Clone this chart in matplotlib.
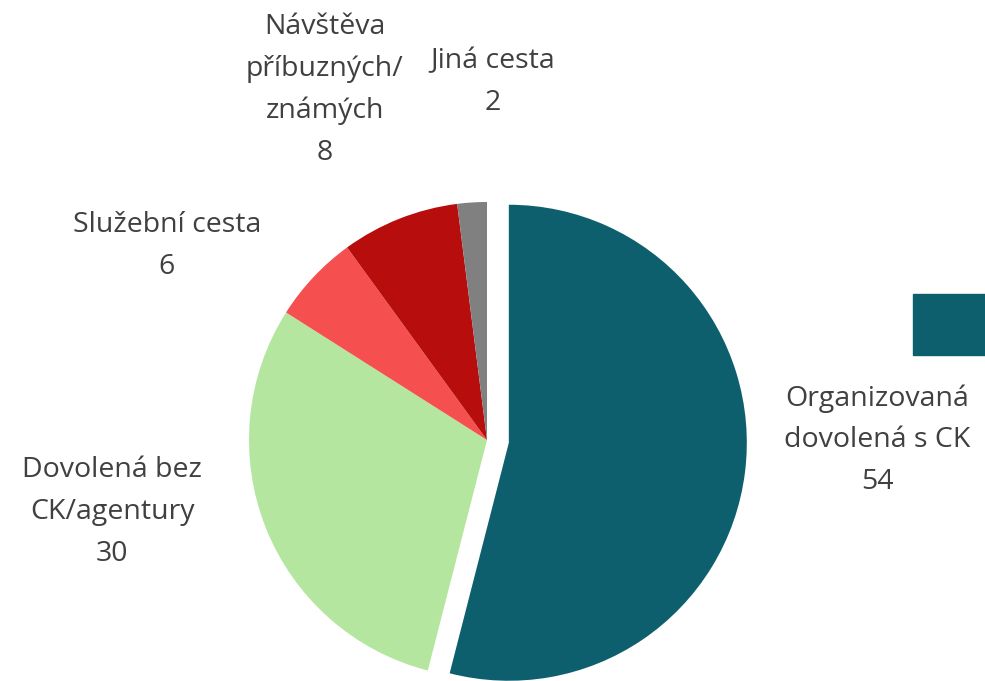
import matplotlib.pyplot as plt
from matplotlib.patches import Rectangle

plt.rcParams['font.family'] = ['Open Sans', 'DejaVu Sans']

# Data
categories = ["Organizovaná\ndovolená s CK", "Dovolená bez\nCK/agentury",
              "Služební cesta", "Návštěva\npříbuzných/\nznámých", "Jiná cesta"]
values = [54, 30, 6, 8, 2]
colors = ["#0E5F6E", "#B5E6A0", "#F54F4F", "#B80D0D", "#808080"]

# label anchor positions (pixels from top-left)
label_pos = [(877, 440), (112, 512), (167, 246), (325, 90), (493, 82)]

W, H = 985, 681
fig = plt.figure(figsize=(W / 100, H / 100), dpi=100)
ax = fig.add_axes([0, 0, 1, 1])

# explode is in data units (pixels here)
ax.pie(values, colors=colors, startangle=90, counterclock=False,
       explode=[22, 0, 0, 0, 0], center=(487, H - 440), radius=238,
       frame=True, wedgeprops=dict(linewidth=0))
ax.set_xlim(0, W)
ax.set_ylim(0, H)
ax.set_aspect("equal")
ax.axis("off")

for cat, val, (px, py) in zip(categories, values, label_pos):
    ax.text(px, H - py, f"{cat}\n{val}", ha="center", va="center",
            fontsize=20.5, color="#404040", linespacing=1.65)

# legend marker (cut off at the right edge)
fig.patches.append(Rectangle((913 / W, 1 - 355 / H), 80 / W, 61 / H,
                             transform=fig.transFigure, color=colors[0]))

plt.savefig("out.png", dpi=100)
